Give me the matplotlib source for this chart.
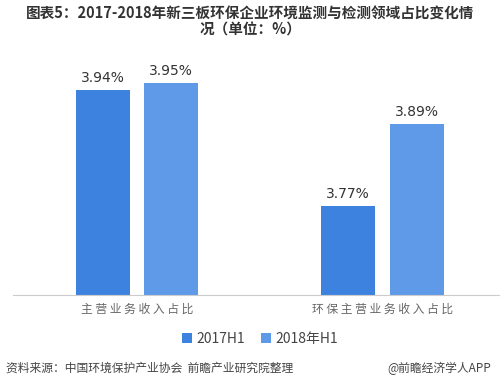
import matplotlib
matplotlib.use("Agg")
import matplotlib.pyplot as plt
import numpy as np

plt.rcParams['font.family'] = ['Noto Sans CJK SC', 'DejaVu Sans']

# data
categories = ["主 营 业 务 收 入 占 比", "环 保 主 营 业 务 收 入 占 比"]
series_names = ["2017H1", "2018年H1"]
values_2017 = [3.94, 3.77]
values_2018 = [3.95, 3.89]

colors = ["#3E82E0", "#5E9AE8"]

fig = plt.figure(figsize=(5, 3.8), dpi=100)
ax = fig.add_axes([0.026, 0.224, 0.974, 0.58])

x = np.array([0, 1])
width = 0.22
gap = 0.03
b1 = ax.bar(x - width / 2 - gap, values_2017, width, color=colors[0],
            label=series_names[0])
b2 = ax.bar(x + width / 2 + gap, values_2018, width, color=colors[1],
            label=series_names[1])

for bars, vals in ((b1, values_2017), (b2, values_2018)):
    for rect, v in zip(bars, vals):
        ax.text(rect.get_x() + rect.get_width() / 2, v + 0.008,
                f"{v:.2f}%", ha="center", va="bottom",
                fontsize=10, color="#333333", family="DejaVu Sans")

ax.set_ylim(3.64, 3.963)
ax.set_xlim(-0.505, 1.48)
ax.set_xticks(x)
ax.set_xticklabels(categories, fontsize=8.5, color="#666666")
ax.tick_params(axis="x", length=0, pad=6)
ax.set_yticks([])
for s in ("top", "right", "left"):
    ax.spines[s].set_visible(False)
ax.spines["bottom"].set_color("#cccccc")

fig.legend(handles=[b1, b2], labels=series_names, loc="center",
           bbox_to_anchor=(0.52, 0.108), ncol=2, frameon=False,
           fontsize=10, handlelength=0.7, handleheight=0.7,
           handletextpad=0.3, columnspacing=1.2, labelcolor="#444444")

fig.text(0.5, 0.965, "图表5：2017-2018年新三板环保企业环境监测与检测领域占比变化情",
         ha="center", va="center", fontsize=10.5, fontweight="bold",
         color="#333333")
fig.text(0.5, 0.922, "况（单位：%）", ha="center", va="center",
         fontsize=10.5, fontweight="bold", color="#333333")

fig.text(0.012, 0.03, "资料来源：中国环境保护产业协会  前瞻产业研究院整理",
         ha="left", va="center", fontsize=8.5, color="#444444",
         style="italic")
fig.text(0.982, 0.03, "@前瞻经济学人APP", ha="right", va="center",
         fontsize=8.5, color="#444444")

fig.savefig("out.png", dpi=100, facecolor="white")
